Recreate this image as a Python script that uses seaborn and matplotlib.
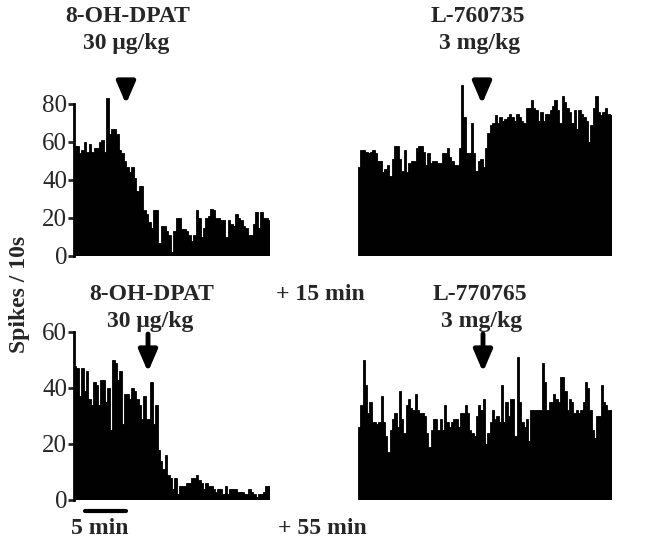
import numpy as np
import matplotlib
matplotlib.use("Agg")
import matplotlib.pyplot as plt
import seaborn as sns
from matplotlib.lines import Line2D
from matplotlib.patches import FancyArrowPatch

# spikes per 10 s bin
tl_counts = [58, 58, 54, 56, 60, 55, 59, 55, 57, 57, 60, 61, 55, 83, 64, 67, 67, 64, 56, 54,
             50, 47, 44, 47, 41, 34, 37, 37, 24, 22, 18, 15, 24, 24, 7, 16, 16, 13, 11, 2,
             13, 20, 20, 14, 14, 13, 11, 8, 11, 24, 20, 10, 15, 20, 21, 25, 24, 20, 20, 19,
             19, 10, 19, 17, 16, 22, 20, 19, 16, 15, 11, 11, 17, 23, 15, 23, 20, 20, 19]
tr_counts = [47, 56, 56, 55, 54, 55, 56, 54, 50, 50, 44, 46, 48, 42, 51, 58, 58, 51, 45, 56,
             44, 49, 50, 50, 57, 58, 58, 55, 48, 54, 49, 50, 50, 49, 49, 54, 54, 57, 52, 50,
             48, 48, 57, 90, 73, 54, 54, 70, 54, 45, 50, 51,
             47, 57, 65, 69, 70, 74, 70, 73, 71, 72, 73, 75, 73, 71, 75, 73, 71, 70, 78, 78,
             82, 78, 77, 71, 76, 71, 75, 75, 77, 79, 82, 77, 70, 84, 81, 78, 76, 70, 77, 67,
             77, 75, 73, 71, 60, 69, 78, 84, 76, 74, 76, 78, 75, 74]
bl_counts = [48, 47, 37, 47, 39, 46, 36, 34, 42, 41, 34, 43, 43, 35, 40, 25, 50, 49, 43, 46,
             27, 38, 38, 36, 40, 39, 36, 34, 29, 37, 29, 29, 42, 27, 34, 18, 14, 11, 16, 9,
             8, 4, 8, 2, 5, 5, 5, 6, 6, 8, 8, 9, 7, 6, 4, 6, 5, 5, 4, 3,
             4, 4, 2, 5, 2, 4, 4, 4, 3, 3, 3, 2, 2, 4, 3, 2, 1, 2, 2, 3, 5, 5]
br_counts = [26, 34, 50, 41, 31, 35, 28, 28, 27, 28, 37, 28, 23, 17, 25, 29, 31, 26, 39, 29,
             24, 34, 36, 33, 32, 38, 32, 31, 31, 30, 24, 19, 25, 29, 29, 25, 29, 25, 34, 28,
             26, 28, 29, 29, 26, 31, 31, 34, 31, 25, 24, 23, 30, 34, 32,
             36, 20, 24, 28, 32, 29, 30, 28, 41, 28, 35, 30, 36, 36, 23, 51, 35, 28, 26, 29,
             21, 32, 32, 32, 32, 32, 49, 42, 32, 35, 35, 38, 36, 35, 44, 44, 39, 32, 36, 35,
             31, 32, 31, 32, 35, 42, 40, 32, 25, 22, 30, 30, 41, 35, 34, 32, 32]

top_ticks = [0, 20, 40, 60, 80]
bottom_ticks = [0, 20, 40, 60]

sns.set_theme(style="white")
plt.rcParams["font.family"] = ["Liberation Serif", "DejaVu Serif"]

W, H = 650, 541
fig = plt.figure(figsize=(6.5, 5.41), dpi=100)


def fx(x):
    return x / W


def fy(y):
    return 1 - y / H


def panel(left, right, base, px_unit, ymax, counts, ticks=None):
    ax = fig.add_axes([fx(left), fy(base), (right - left) / W, ymax * px_unit / H])
    sns.barplot(x=np.arange(len(counts)), y=counts, color="black", saturation=1,
                width=1, linewidth=0.6, edgecolor="black", ax=ax)
    ax.set_ylim(0, ymax)
    ax.set_xlim(-0.5, len(counts) - 0.5)
    ax.set_xticks([])
    ax.set_xlabel("")
    ax.set_ylabel("")
    for s in ["top", "right", "bottom"]:
        ax.spines[s].set_visible(False)
    if ticks is None:
        ax.spines["left"].set_visible(False)
        ax.set_yticks([])
    else:
        ax.spines["left"].set_bounds(0, ticks[-1])
        ax.spines["left"].set_linewidth(2)
        ax.spines["left"].set_color("black")
        ax.set_yticks(ticks)
        ax.tick_params(axis="y", direction="out", length=4, width=2, pad=1,
                       labelsize=18, left=True)
    ax.patch.set_alpha(0)
    return ax


panel(74, 270, 256, 1.9, 90, tl_counts, top_ticks)
panel(358, 612, 256, 1.9, 90, tr_counts)
panel(74, 270, 500, 2.8, 62, bl_counts, bottom_ticks)
panel(358, 612, 500, 2.8, 62, br_counts)


def label(x, y, s, **kw):
    fig.text(fx(x), fy(y), s, ha="center", va="center", fontsize=17,
             fontweight="bold", **kw)


def arrow(x, y0, y1):
    fig.add_artist(FancyArrowPatch(
        (fx(x), fy(y0)), (fx(x), fy(y1)), transform=fig.transFigure,
        arrowstyle="-|>,head_length=0.65,head_width=0.28", mutation_scale=20,
        lw=3.5, color="black", shrinkA=0, shrinkB=0))


label(128, 16, "8-OH-DPAT")
label(126, 43, "30 μg/kg")
arrow(126, 81, 104)
label(478, 16, "L-760735")
label(480, 43, "3 mg/kg")
arrow(482, 81, 104)

label(152, 294, "8-OH-DPAT")
label(150, 321, "30 μg/kg")
arrow(148, 334, 372)
label(320, 294, "+ 15 min")
label(480, 294, "L-770765")
label(482, 321, "3 mg/kg")
arrow(483, 334, 372)

label(20, 294, "Spikes / 10s", rotation=90)

fig.add_artist(Line2D([fx(85), fx(126)], [fy(511), fy(511)], lw=3, color="black"))
label(100, 528, "5 min")
label(322, 528, "+ 55 min")

fig.savefig("out.png", dpi=100)
